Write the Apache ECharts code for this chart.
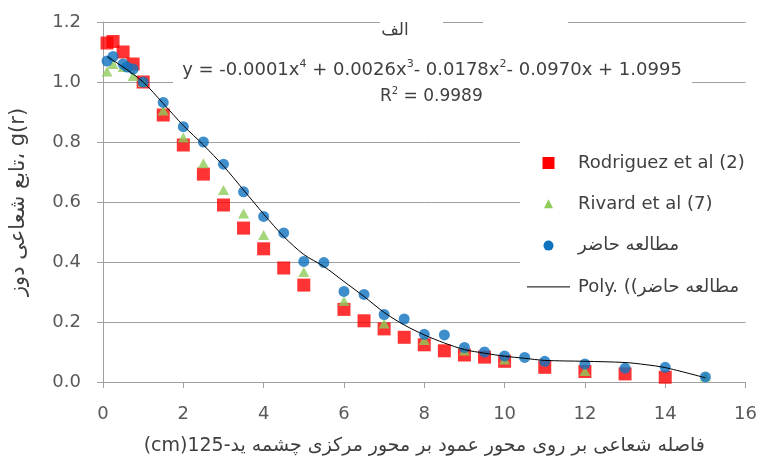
<!DOCTYPE html>
<html><head><meta charset="utf-8">
<script src="https://cdn.jsdelivr.net/npm/echarts@6/dist/echarts.min.js"></script>
<style>html,body{margin:0;padding:0;background:#fff}#c{width:760px;height:461px}</style>
</head><body><div id="c"></div>
<script>
// ---- data ----
const xTicks = [0, 2, 4, 6, 8, 10, 12, 14, 16];
const yTicks = [0.0, 0.2, 0.4, 0.6, 0.8, 1.0, 1.2];

const seriesNames = ['Rodriguez et al (2)', 'Rivard et al (7)', 'مطالعه حاضر', 'Poly. ((مطالعه حاضر'];

const rRodriguez = [0.1, 0.25, 0.5, 0.75, 1, 1.5, 2, 2.5, 3, 3.5, 4, 4.5, 5, 6, 6.5, 7, 7.5, 8, 8.5, 9, 9.5, 10, 11, 12, 13, 14];
const gRodriguez = [1.13, 1.135, 1.10, 1.06, 1.0, 0.89, 0.79, 0.693, 0.59, 0.513, 0.444, 0.38, 0.323, 0.242, 0.204, 0.177, 0.149, 0.124, 0.104, 0.09, 0.083, 0.069, 0.049, 0.035, 0.027, 0.016];

const rRivard = [0.1, 0.25, 0.5, 0.75, 1, 1.5, 2, 2.5, 3, 3.5, 4, 5, 6, 7, 8, 9, 10, 12, 15];
const gRivard = [1.035, 1.06, 1.05, 1.02, 1.0, 0.905, 0.815, 0.729, 0.64, 0.562, 0.49, 0.367, 0.27, 0.195, 0.14, 0.105, 0.075, 0.037, 0.018];

const rPresent = [0.1, 0.25, 0.5, 0.6, 0.75, 1, 1.5, 2, 2.5, 3, 3.5, 4, 4.5, 5, 5.5, 6, 6.5, 7, 7.5, 8, 8.5, 9, 9.5, 10, 10.5, 11, 12, 13, 14, 15];
const gPresent = [1.07, 1.085, 1.06, 1.05, 1.043, 1.0, 0.932, 0.851, 0.80, 0.726, 0.634, 0.552, 0.497, 0.402, 0.398, 0.302, 0.292, 0.225, 0.21, 0.159, 0.157, 0.115, 0.10, 0.087, 0.082, 0.069, 0.06, 0.046, 0.049, 0.017];

const rPoly = [0.1, 0.5, 1, 1.5, 2, 2.5, 3, 3.5, 4, 4.5, 5, 5.5, 6, 6.5, 7, 7.5, 8, 8.5, 9, 9.5, 10, 10.5, 11, 12, 13, 13.5, 14, 15];
const gPoly = [1.085, 1.05, 1.0, 0.928, 0.855, 0.79, 0.72, 0.64, 0.56, 0.485, 0.425, 0.385, 0.335, 0.285, 0.232, 0.19, 0.157, 0.13, 0.108, 0.096, 0.086, 0.079, 0.072, 0.069, 0.065, 0.058, 0.048, 0.014];

const chartTitle = 'الف';
const equationParts = ['y = -0.0001x', '4', ' + 0.0026x', '3', '- 0.0178x', '2', '- 0.0970x + 1.0995'];
const rSquaredText = ['R', '2', ' = 0.9989'];
const xAxisName = '\u202Bفاصله شعاعی بر روی محور عمود بر محور مرکزی چشمه ید-125(cm)\u202C';
const yAxisName = 'تابع شعاعی دوز، g(r)';

// ---- build ----
const pairs = (xs, ys) => xs.map((x, i) => [x, ys[i]]);
const FONT = "'DejaVu Sans', sans-serif";
const TXT = '#404040';
const colors = ['#ff0000', '#8fcc5a', '#0f72bf', '#000000'];

function richFrom(parts) {
  return parts.map((p, i) => i % 2 === 1 ? '{s|' + p + '}' : '{n|' + p + '}').join('');
}

// manual legend (real text)
const legendX = 527, legendTop = 163, legendStep = 41.3;
const legendGraphics = [];
seriesNames.forEach((name, i) => {
  const cy = legendTop + i * legendStep;
  const cx = 548.5;
  if (i === 0) legendGraphics.push({ type: 'rect', z: 10, shape: { x: cx - 6, y: cy - 6, width: 12, height: 12 }, style: { fill: colors[0] } });
  if (i === 1) legendGraphics.push({ type: 'polygon', z: 10, shape: { points: [[cx, cy - 5], [cx + 4.5, cy + 4], [cx - 4.5, cy + 4]] }, style: { fill: colors[1] } });
  if (i === 2) legendGraphics.push({ type: 'circle', z: 10, shape: { cx: cx, cy: cy, r: 5 }, style: { fill: colors[2] } });
  if (i === 3) legendGraphics.push({ type: 'line', z: 10, shape: { x1: legendX, y1: cy, x2: legendX + 43, y2: cy }, style: { stroke: '#000', lineWidth: 1 } });
  legendGraphics.push({ type: 'text', z: 10, x: 578, y: cy, style: { text: name, fill: TXT, font: '18px ' + FONT, align: 'left', verticalAlign: 'middle' } });
});

const chart = echarts.init(document.getElementById('c'), null, { renderer: 'canvas' });
chart.setOption({
  animation: false,
  backgroundColor: '#fff',
  textStyle: { fontFamily: FONT },
  grid: { left: 100, right: 13, top: 22, bottom: 77, containLabel: false },
  xAxis: {
    type: 'value', min: xTicks[0], max: xTicks[xTicks.length - 1], interval: 2,
    axisLine: { show: true, lineStyle: { color: '#a0a0a0', width: 1 } },
    axisTick: { show: true, length: 6, lineStyle: { color: '#a0a0a0' } },
    splitLine: { show: false },
    axisLabel: { color: '#595959', fontSize: 18, fontFamily: FONT, margin: 23 },
    name: xAxisName, nameLocation: 'middle', nameGap: 55,
    nameTextStyle: { color: TXT, fontSize: 19, fontFamily: FONT }
  },
  yAxis: {
    type: 'value', min: yTicks[0], max: yTicks[yTicks.length - 1], interval: 0.2,
    axisLine: { show: true, lineStyle: { color: '#a0a0a0', width: 1 } },
    axisTick: { show: true, length: 6, lineStyle: { color: '#a0a0a0' } },
    splitLine: { show: true, lineStyle: { color: '#a0a0a0', width: 1 } },
    axisLabel: { color: '#595959', fontSize: 18, fontFamily: FONT, margin: 22,
      formatter: v => v.toFixed(1) },
    name: yAxisName, nameLocation: 'middle', nameGap: 74, nameRotate: 90,
    nameTextStyle: { color: TXT, fontSize: 21, fontFamily: FONT }
  },
  graphic: [
    { type: 'rect', z: 1, shape: { x: 380, y: 12, width: 63, height: 26 }, style: { fill: '#fff' } },
    { type: 'rect', z: 1, shape: { x: 483, y: 12, width: 85, height: 26 }, style: { fill: '#fff' } },
    { type: 'rect', z: 1, shape: { x: 173, y: 55, width: 519, height: 52 }, style: { fill: '#fff' } },
    { type: 'rect', z: 1, shape: { x: 520, y: 125, width: 240, height: 182 }, style: { fill: '#fff' } },
    { type: 'text', z: 10, x: 395, y: 31, style: { text: chartTitle, fill: TXT, font: "17px " + FONT, align: 'center', verticalAlign: 'middle' } },
    { type: 'text', z: 10, x: 432, y: 70, style: {
        text: richFrom(equationParts), align: 'center', verticalAlign: 'middle',
        rich: { n: { fontSize: 18, fontFamily: FONT, fill: TXT, color: TXT },
                s: { fontSize: 11, fontFamily: FONT, fill: TXT, color: TXT, verticalAlign: 'top', lineHeight: 22 } } } },
    { type: 'text', z: 10, x: 380, y: 97, style: {
        text: richFrom(rSquaredText), align: 'left', verticalAlign: 'middle',
        rich: { n: { fontSize: 17, fontFamily: FONT, fill: TXT, color: TXT },
                s: { fontSize: 10, fontFamily: FONT, fill: TXT, color: TXT, verticalAlign: 'top', lineHeight: 22 } } } }
  ].concat(legendGraphics),
  series: [
    { name: seriesNames[0], type: 'scatter', symbol: 'rect', symbolSize: 13, z: 2,
      itemStyle: { color: colors[0] }, data: pairs(rRodriguez, gRodriguez) },
    { name: seriesNames[1], type: 'scatter', symbol: 'triangle', symbolSize: [11, 10], z: 3,
      itemStyle: { color: colors[1] }, data: pairs(rRivard, gRivard) },
    { name: seriesNames[2], type: 'scatter', symbol: 'circle', symbolSize: 11, z: 4,
      itemStyle: { color: colors[2] }, data: pairs(rPresent, gPresent) },
    { name: seriesNames[3], type: 'line', symbol: 'none', smooth: 0.3, z: 5,
      lineStyle: { color: colors[3], width: 1 }, itemStyle: { color: colors[3] },
      data: pairs(rPoly, gPoly) }
  ]
});
</script></body></html>
